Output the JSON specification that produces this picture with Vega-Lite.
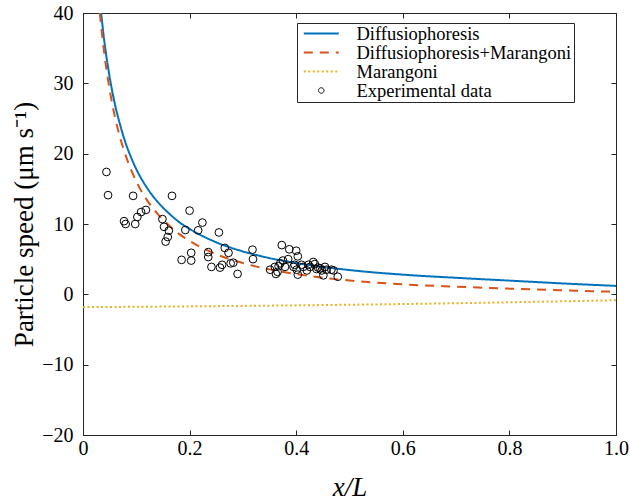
{
  "$schema": "https://vega.github.io/schema/vega-lite/v6.json",
  "width": 533,
  "height": 422,
  "autosize": "none",
  "padding": {"left": 83, "top": 13, "right": 14, "bottom": 65},
  "background": "white",
  "config": {
    "font": "Liberation Serif",
    "view": {"stroke": "#262626", "strokeWidth": 1},
    "style": {
      "guide-label": {"font": "Liberation Serif"},
      "guide-title": {"font": "Liberation Serif"}
    },
    "axis": {
      "grid": false,
      "domainColor": "#262626",
      "tickColor": "#262626",
      "labelColor": "#000000",
      "labelFont": "Liberation Serif",
      "labelFontSize": 20,
      "labelFlush": false,
      "titleFont": "Liberation Serif",
      "titleFontSize": 27,
      "titleFontWeight": "normal",
      "titleColor": "#000000",
      "tickSize": -5
    },
    "axisX": {"labelPadding": 8},
    "axisY": {"labelPadding": 15},
    "legend": {
      "orient": "none",
      "legendX": 214,
      "legendY": 10,
      "labelFont": "Liberation Serif",
      "labelFontSize": 18.5,
      "labelColor": "#000000",
      "labelLimit": 400,
      "strokeColor": "#262626",
      "fillColor": "white",
      "padding": 2,
      "rowPadding": 0,
      "clipHeight": 17,
      "symbolOffset": 13,
      "labelOffset": 26
    }
  },
  "datasets": {
    "curves": [
      {"x": 0.034, "y": 40, "series": "Diffusiophoresis"},
      {"x": 0.04, "y": 36.0, "series": "Diffusiophoresis"},
      {"x": 0.05, "y": 30.9, "series": "Diffusiophoresis"},
      {"x": 0.06, "y": 27.0, "series": "Diffusiophoresis"},
      {"x": 0.07, "y": 24.0, "series": "Diffusiophoresis"},
      {"x": 0.08, "y": 21.5, "series": "Diffusiophoresis"},
      {"x": 0.09, "y": 19.5, "series": "Diffusiophoresis"},
      {"x": 0.1, "y": 17.8, "series": "Diffusiophoresis"},
      {"x": 0.12, "y": 15.15, "series": "Diffusiophoresis"},
      {"x": 0.14, "y": 13.15, "series": "Diffusiophoresis"},
      {"x": 0.16, "y": 11.6, "series": "Diffusiophoresis"},
      {"x": 0.18, "y": 10.3, "series": "Diffusiophoresis"},
      {"x": 0.2, "y": 9.3, "series": "Diffusiophoresis"},
      {"x": 0.25, "y": 7.4, "series": "Diffusiophoresis"},
      {"x": 0.3, "y": 6.1, "series": "Diffusiophoresis"},
      {"x": 0.35, "y": 5.15, "series": "Diffusiophoresis"},
      {"x": 0.4, "y": 4.45, "series": "Diffusiophoresis"},
      {"x": 0.5, "y": 3.45, "series": "Diffusiophoresis"},
      {"x": 0.6, "y": 2.8, "series": "Diffusiophoresis"},
      {"x": 0.7, "y": 2.35, "series": "Diffusiophoresis"},
      {"x": 0.8, "y": 1.95, "series": "Diffusiophoresis"},
      {"x": 0.9, "y": 1.55, "series": "Diffusiophoresis"},
      {"x": 1.0, "y": 1.2, "series": "Diffusiophoresis"},
      {"x": 0.0315, "y": 40, "series": "Diffusiophoresis+Marangoni"},
      {"x": 0.04, "y": 34.2, "series": "Diffusiophoresis+Marangoni"},
      {"x": 0.05, "y": 29.1, "series": "Diffusiophoresis+Marangoni"},
      {"x": 0.06, "y": 25.2, "series": "Diffusiophoresis+Marangoni"},
      {"x": 0.07, "y": 22.2, "series": "Diffusiophoresis+Marangoni"},
      {"x": 0.08, "y": 19.75, "series": "Diffusiophoresis+Marangoni"},
      {"x": 0.09, "y": 17.75, "series": "Diffusiophoresis+Marangoni"},
      {"x": 0.1, "y": 16.05, "series": "Diffusiophoresis+Marangoni"},
      {"x": 0.12, "y": 13.4, "series": "Diffusiophoresis+Marangoni"},
      {"x": 0.14, "y": 11.45, "series": "Diffusiophoresis+Marangoni"},
      {"x": 0.16, "y": 9.9, "series": "Diffusiophoresis+Marangoni"},
      {"x": 0.18, "y": 8.6, "series": "Diffusiophoresis+Marangoni"},
      {"x": 0.2, "y": 7.6, "series": "Diffusiophoresis+Marangoni"},
      {"x": 0.25, "y": 5.7, "series": "Diffusiophoresis+Marangoni"},
      {"x": 0.3, "y": 4.45, "series": "Diffusiophoresis+Marangoni"},
      {"x": 0.35, "y": 3.55, "series": "Diffusiophoresis+Marangoni"},
      {"x": 0.4, "y": 2.88, "series": "Diffusiophoresis+Marangoni"},
      {"x": 0.5, "y": 1.97, "series": "Diffusiophoresis+Marangoni"},
      {"x": 0.6, "y": 1.42, "series": "Diffusiophoresis+Marangoni"},
      {"x": 0.7, "y": 1.09, "series": "Diffusiophoresis+Marangoni"},
      {"x": 0.8, "y": 0.81, "series": "Diffusiophoresis+Marangoni"},
      {"x": 0.9, "y": 0.57, "series": "Diffusiophoresis+Marangoni"},
      {"x": 1.0, "y": 0.36, "series": "Diffusiophoresis+Marangoni"},
      {"x": 0.0, "y": -1.82, "series": "Marangoni"},
      {"x": 0.25, "y": -1.68, "series": "Marangoni"},
      {"x": 0.5, "y": -1.48, "series": "Marangoni"},
      {"x": 0.75, "y": -1.2, "series": "Marangoni"},
      {"x": 1.0, "y": -0.84, "series": "Marangoni"}
    ],
    "points": [
      {"x": 0.044, "y": 17.4, "series": "Experimental data"},
      {"x": 0.047, "y": 14.1, "series": "Experimental data"},
      {"x": 0.077, "y": 10.4, "series": "Experimental data"},
      {"x": 0.080, "y": 10.0, "series": "Experimental data"},
      {"x": 0.094, "y": 14.0, "series": "Experimental data"},
      {"x": 0.098, "y": 10.0, "series": "Experimental data"},
      {"x": 0.102, "y": 11.0, "series": "Experimental data"},
      {"x": 0.109, "y": 11.7, "series": "Experimental data"},
      {"x": 0.118, "y": 12.0, "series": "Experimental data"},
      {"x": 0.149, "y": 10.7, "series": "Experimental data"},
      {"x": 0.152, "y": 9.6, "series": "Experimental data"},
      {"x": 0.161, "y": 9.05, "series": "Experimental data"},
      {"x": 0.159, "y": 8.15, "series": "Experimental data"},
      {"x": 0.155, "y": 7.5, "series": "Experimental data"},
      {"x": 0.167, "y": 14.0, "series": "Experimental data"},
      {"x": 0.185, "y": 4.9, "series": "Experimental data"},
      {"x": 0.192, "y": 9.15, "series": "Experimental data"},
      {"x": 0.200, "y": 11.9, "series": "Experimental data"},
      {"x": 0.203, "y": 5.9, "series": "Experimental data"},
      {"x": 0.203, "y": 4.8, "series": "Experimental data"},
      {"x": 0.216, "y": 9.1, "series": "Experimental data"},
      {"x": 0.224, "y": 10.2, "series": "Experimental data"},
      {"x": 0.235, "y": 6.0, "series": "Experimental data"},
      {"x": 0.235, "y": 5.3, "series": "Experimental data"},
      {"x": 0.241, "y": 3.9, "series": "Experimental data"},
      {"x": 0.255, "y": 8.8, "series": "Experimental data"},
      {"x": 0.257, "y": 3.8, "series": "Experimental data"},
      {"x": 0.261, "y": 4.2, "series": "Experimental data"},
      {"x": 0.266, "y": 6.6, "series": "Experimental data"},
      {"x": 0.273, "y": 5.9, "series": "Experimental data"},
      {"x": 0.277, "y": 4.4, "series": "Experimental data"},
      {"x": 0.282, "y": 4.5, "series": "Experimental data"},
      {"x": 0.290, "y": 2.9, "series": "Experimental data"},
      {"x": 0.318, "y": 6.35, "series": "Experimental data"},
      {"x": 0.319, "y": 5.0, "series": "Experimental data"},
      {"x": 0.351, "y": 3.5, "series": "Experimental data"},
      {"x": 0.360, "y": 3.9, "series": "Experimental data"},
      {"x": 0.362, "y": 2.9, "series": "Experimental data"},
      {"x": 0.365, "y": 3.2, "series": "Experimental data"},
      {"x": 0.367, "y": 4.0, "series": "Experimental data"},
      {"x": 0.370, "y": 4.4, "series": "Experimental data"},
      {"x": 0.375, "y": 4.8, "series": "Experimental data"},
      {"x": 0.379, "y": 3.9, "series": "Experimental data"},
      {"x": 0.385, "y": 5.0, "series": "Experimental data"},
      {"x": 0.373, "y": 7.0, "series": "Experimental data"},
      {"x": 0.387, "y": 6.4, "series": "Experimental data"},
      {"x": 0.400, "y": 6.2, "series": "Experimental data"},
      {"x": 0.403, "y": 5.4, "series": "Experimental data"},
      {"x": 0.395, "y": 3.9, "series": "Experimental data"},
      {"x": 0.397, "y": 4.2, "series": "Experimental data"},
      {"x": 0.401, "y": 3.5, "series": "Experimental data"},
      {"x": 0.403, "y": 2.8, "series": "Experimental data"},
      {"x": 0.410, "y": 4.2, "series": "Experimental data"},
      {"x": 0.413, "y": 3.9, "series": "Experimental data"},
      {"x": 0.420, "y": 3.4, "series": "Experimental data"},
      {"x": 0.423, "y": 4.2, "series": "Experimental data"},
      {"x": 0.426, "y": 3.9, "series": "Experimental data"},
      {"x": 0.432, "y": 4.6, "series": "Experimental data"},
      {"x": 0.435, "y": 4.3, "series": "Experimental data"},
      {"x": 0.438, "y": 3.6, "series": "Experimental data"},
      {"x": 0.441, "y": 3.8, "series": "Experimental data"},
      {"x": 0.445, "y": 3.7, "series": "Experimental data"},
      {"x": 0.448, "y": 3.4, "series": "Experimental data"},
      {"x": 0.451, "y": 2.7, "series": "Experimental data"},
      {"x": 0.454, "y": 3.9, "series": "Experimental data"},
      {"x": 0.457, "y": 3.5, "series": "Experimental data"},
      {"x": 0.466, "y": 3.5, "series": "Experimental data"},
      {"x": 0.470, "y": 3.4, "series": "Experimental data"},
      {"x": 0.478, "y": 2.5, "series": "Experimental data"}
    ]
  },
  "layer": [
    {
      "layer": [
        {
          "data": {"name": "curves"},
          "mark": {"type": "line", "strokeWidth": 2, "interpolate": "monotone", "clip": true},
          "encoding": {
            "x": {
              "field": "x", "type": "quantitative",
              "scale": {"domain": [0, 1], "nice": false},
              "axis": {"values": [0, 0.2, 0.4, 0.6, 0.8, 1.0], "labelExpr": "datum.value == 0 ? '0' : format(datum.value, '.1f')", "title": "x/L", "titleFontStyle": "italic", "titleY": 52, "titleBaseline": "middle"}
            },
            "y": {
              "field": "y", "type": "quantitative",
              "scale": {"domain": [-20, 40], "nice": false},
              "axis": {"values": [-20, -10, 0, 10, 20, 30, 40], "title": "Particle speed (μm s⁻¹)", "titleX": -59, "titleBaseline": "middle"}
            },
            "color": {
              "field": "series", "type": "nominal",
              "scale": {
                "domain": ["Diffusiophoresis", "Diffusiophoresis+Marangoni", "Marangoni", "Experimental data"],
                "range": ["#0072BD", "#D95319", "#EDB120", "#000000"]
              },
              "legend": {
                "title": null,
                "encode": {
                  "symbols": {
                    "update": {
                      "shape": {"signal": "datum.value === 'Experimental data' ? 'circle' : 'stroke'"},
                      "size": {"signal": "datum.value === 'Experimental data' ? 30 : 1225"},
                      "strokeWidth": {"signal": "datum.value === 'Experimental data' ? 1 : 2"},
                      "fill": {"value": "transparent"}
                    }
                  }
                }
              }
            },
            "strokeDash": {
              "field": "series", "type": "nominal",
              "scale": {
                "domain": ["Diffusiophoresis", "Diffusiophoresis+Marangoni", "Marangoni", "Experimental data"],
                "range": [[1, 0], [9, 7], [2, 2.5], [1, 0]]
              },
              "legend": {"title": null}
            }
          }
        },
        {
          "data": {"name": "points"},
          "mark": {"type": "point", "filled": false, "strokeWidth": 1, "opacity": 1, "size": 60},
          "encoding": {
            "x": {"field": "x", "type": "quantitative"},
            "y": {"field": "y", "type": "quantitative"},
            "color": {"field": "series", "type": "nominal", "legend": {"title": null}}
          }
        }
      ]
    },
    {
      "data": {"name": "points"},
      "mark": {"type": "point", "opacity": 0},
      "encoding": {
        "x": {"field": "x", "type": "quantitative", "axis": {"orient": "top", "values": [0, 0.2, 0.4, 0.6, 0.8, 1.0], "labels": false, "title": null, "domain": false}},
        "y": {"field": "y", "type": "quantitative", "axis": {"orient": "right", "values": [-20, -10, 0, 10, 20, 30, 40], "labels": false, "title": null, "domain": false}}
      }
    }
  ],
  "resolve": {"axis": {"x": "independent", "y": "independent"}}
}
